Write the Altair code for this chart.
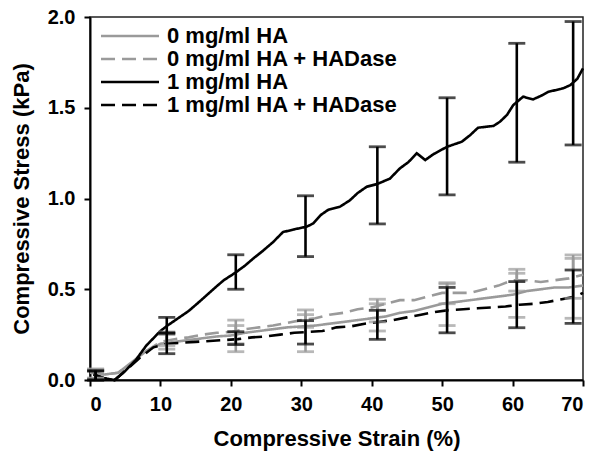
import altair as alt
import pandas as pd

SERIES = ["0 mg/ml HA", "0 mg/ml HA + HADase", "1 mg/ml HA", "1 mg/ml HA + HADase"]
COLORS = ["#9a9a9a", "#9a9a9a", "#000000", "#000000"]
DASHES = [[1, 0], [14, 7], [1, 0], [14, 7]]

# ---- curves (strain %, stress kPa) ----
ha0_strain = [0, 2, 4, 6, 8, 10, 12, 14, 16, 18, 20, 22, 24, 26, 28, 30, 32, 34, 36, 38,
              40, 42, 44, 46, 48, 50, 52, 54, 56, 58, 60, 62, 64, 66, 68, 70]
ha0_stress = [0.045, 0.03, 0.04, 0.10, 0.16, 0.20, 0.21, 0.22, 0.23, 0.24, 0.245, 0.26, 0.27,
              0.28, 0.29, 0.295, 0.30, 0.31, 0.32, 0.33, 0.34, 0.35, 0.37, 0.38, 0.40, 0.42,
              0.43, 0.44, 0.45, 0.46, 0.47, 0.49, 0.50, 0.51, 0.51, 0.52]

ha0d_strain = [0, 2, 4, 6, 8, 10, 12, 14, 16, 18, 20, 22, 24, 26, 28, 30, 32, 34, 36, 38,
               40, 42, 44, 46, 48, 50, 52, 54, 56, 58, 60, 62, 64, 66, 68, 70]
ha0d_stress = [0.04, 0.03, 0.04, 0.09, 0.16, 0.21, 0.225, 0.235, 0.25, 0.26, 0.265, 0.28, 0.29,
               0.30, 0.315, 0.33, 0.34, 0.36, 0.37, 0.39, 0.40, 0.42, 0.44, 0.44, 0.46, 0.48,
               0.48, 0.48, 0.50, 0.52, 0.55, 0.55, 0.54, 0.55, 0.56, 0.58]

ha1_strain = [0.5, 2, 3.5, 5, 6.5, 8, 10, 11, 12.5, 14, 15.2, 16.5, 17.8, 19, 20.6, 22, 23.2,
              24.5, 26, 27.4, 29, 30.8, 31.7, 32.8, 33.8, 35.5, 36.9, 38, 39.3, 40.8, 42.6, 44,
              45.2, 46.4, 47.6, 48.8, 50.7, 52.8, 54, 55.1, 57.3, 58.2, 59.2, 60.1, 61.5, 62.9,
              64, 65.1, 67.2, 68.2, 69.2, 70]
ha1_stress = [0.03, 0.01, 0.0, 0.05, 0.11, 0.19, 0.27, 0.30, 0.34, 0.38, 0.42, 0.465, 0.51, 0.55,
              0.59, 0.63, 0.67, 0.71, 0.76, 0.815, 0.83, 0.845, 0.863, 0.91, 0.937, 0.955, 0.99,
              1.03, 1.065, 1.08, 1.11, 1.166, 1.20, 1.249, 1.212, 1.245, 1.285, 1.313, 1.35, 1.39,
              1.40, 1.423, 1.46, 1.515, 1.561, 1.546, 1.565, 1.588, 1.607, 1.625, 1.66, 1.717]

ha1d_strain = [0.5, 2, 3.5, 5, 7, 9, 11, 13, 15, 17, 19, 21, 23, 25, 27, 29, 31, 33, 35, 37,
               39, 41, 43, 45, 47, 49, 51, 53, 55, 57, 59, 61, 63, 65, 67, 69, 70]
ha1d_stress = [0.03, 0.01, 0.0, 0.05, 0.12, 0.18, 0.20, 0.205, 0.21, 0.215, 0.22, 0.225, 0.235,
               0.24, 0.25, 0.26, 0.265, 0.27, 0.29, 0.295, 0.31, 0.32, 0.33, 0.345, 0.36, 0.375,
               0.385, 0.39, 0.395, 0.40, 0.405, 0.415, 0.42, 0.43, 0.445, 0.46, 0.48]

# ---- error bars ----
err_strain = [0.8, 10.9, 20.7, 30.6, 40.8, 50.7, 60.6, 68.6]
ha0_low = [0.01, 0.17, 0.156, 0.156, 0.27, 0.30, 0.345, 0.34]
ha0_high = [0.06, 0.25, 0.30, 0.36, 0.42, 0.53, 0.588, 0.67]
ha0d_low = [0.01, 0.19, 0.20, 0.29, 0.32, 0.42, 0.49, 0.45]
ha0d_high = [0.06, 0.265, 0.33, 0.386, 0.445, 0.536, 0.61, 0.689]
ha1_low = [0.0, 0.26, 0.50, 0.68, 0.86, 1.02, 1.20, 1.295]
ha1_high = [0.05, 0.345, 0.69, 1.015, 1.285, 1.555, 1.855, 1.975]
ha1d_low = [0.0, 0.145, 0.195, 0.198, 0.224, 0.26, 0.288, 0.312]
ha1d_high = [0.05, 0.257, 0.266, 0.327, 0.384, 0.51, 0.542, 0.606]

curves = [(ha0_strain, ha0_stress), (ha0d_strain, ha0d_stress),
          (ha1_strain, ha1_stress), (ha1d_strain, ha1d_stress)]
errs = [(ha0_low, ha0_high), (ha0d_low, ha0d_high), (ha1_low, ha1_high), (ha1d_low, ha1d_high)]

line_rows = []
for i, (xs, ys) in enumerate(curves):
    for j, (x, y) in enumerate(zip(xs, ys)):
        line_rows.append({"series": SERIES[i], "strain": x, "stress": y, "ord": j})
lines_df = pd.DataFrame(line_rows)

err_rows, cap_rows = [], []
for i, (lo, hi) in enumerate(errs):
    grp = "gray" if i < 2 else "black"
    for x, l, h in zip(err_strain, lo, hi):
        err_rows.append({"series": SERIES[i], "grp": grp, "strain": x, "low": l, "high": h})
        cap_rows.append({"series": SERIES[i], "grp": grp, "strain": x, "v": l})
        cap_rows.append({"series": SERIES[i], "grp": grp, "strain": x, "v": h})
err_df = pd.DataFrame(err_rows)
cap_df = pd.DataFrame(cap_rows)

FONT = "Liberation Sans"
xscale = alt.Scale(domain=[0, 70], nice=False)
yscale = alt.Scale(domain=[0, 2], nice=False)

x_axis = alt.Axis(values=[0, 10, 20, 30, 40, 50, 60, 70], title="Compressive Strain (%)",
                  grid=False, tickSize=6, labelPadding=8, titlePadding=14)
y_axis = alt.Axis(values=[0, 0.5, 1.0, 1.5, 2.0], format=".1f", title="Compressive Stress (kPa)",
                  grid=False, tickSize=6, labelPadding=9, titlePadding=14)

# long horizontal line symbol (path extends beyond the nominal symbol box so rows stay compact)
legend = alt.Legend(title=None, orient="none", legendX=29, legendY=8,
                    symbolType="M-4,0H4", symbolSize=210, symbolStrokeWidth=2.6,
                    labelFontSize=22, labelFont=FONT, labelFontWeight="bold",
                    labelOffset=26, labelLimit=0, rowPadding=1, padding=0,
                    labelColor="black")

lines = alt.Chart(lines_df).mark_line(strokeWidth=2.6).encode(
    x=alt.X("strain:Q", scale=xscale, axis=x_axis),
    y=alt.Y("stress:Q", scale=yscale, axis=y_axis),
    color=alt.Color("series:N", scale=alt.Scale(domain=SERIES, range=COLORS), legend=legend),
    strokeDash=alt.StrokeDash("series:N", scale=alt.Scale(domain=SERIES, range=DASHES), legend=legend),
    order="ord:Q",
)

layers = [lines]
for grp, col in [("gray", "#9a9a9a"), ("black", "#000000")]:
    rules = alt.Chart(err_df).transform_filter(alt.datum.grp == grp).mark_rule(strokeWidth=2.6).encode(
        x="strain:Q", y="low:Q", y2="high:Q", color=alt.value(col))
    caps = alt.Chart(cap_df).transform_filter(alt.datum.grp == grp).mark_tick(
        orient="horizontal", size=17, thickness=2.8).encode(
        x="strain:Q", y="v:Q", color=alt.value(col))
    layers += [rules, caps]

chart = alt.layer(*layers).properties(
    width=493, height=363,
    autosize=alt.AutoSizeParams(type="none"),
    padding={"left": 82, "top": 9, "right": 9, "bottom": 80},
).configure_view(stroke="#222222", strokeWidth=1.5).configure_axis(
    domainColor="black", domainWidth=2, tickColor="black", tickWidth=2,
    labelFont=FONT, labelFontWeight="bold", labelFontSize=20, labelColor="black",
    titleFont=FONT, titleFontWeight="bold", titleFontSize=22, titleColor="black",
)

chart.save("out.html", embed_options={"renderer": "svg", "actions": False})
